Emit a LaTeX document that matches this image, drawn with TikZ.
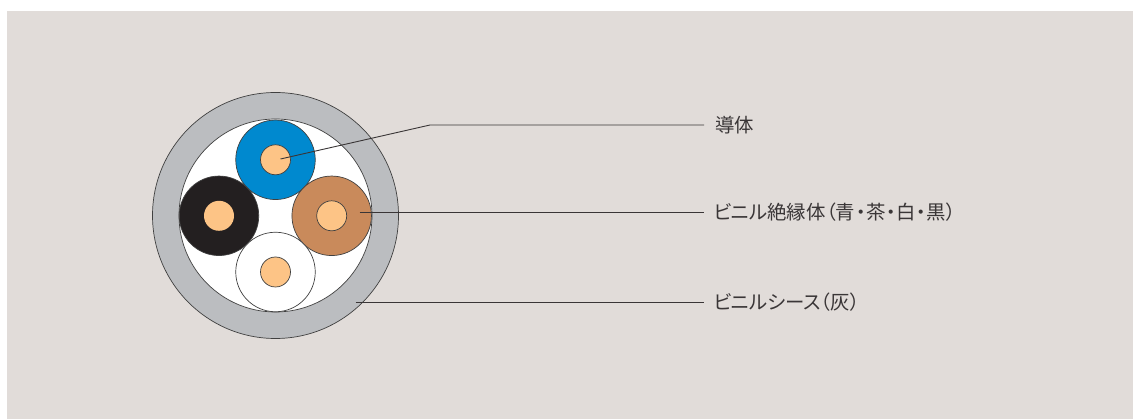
\documentclass[tikz,border=0pt]{standalone}
\usepackage{fontspec}
\newfontfamily\cjk[RawFeature=+palt]{Noto Sans CJK JP}
\definecolor{bgc}{HTML}{E1DCD9}
\definecolor{sheath}{HTML}{BBBDC0}
\definecolor{bluei}{HTML}{0089CF}
\definecolor{browni}{HTML}{C98A5B}
\definecolor{blacki}{HTML}{231F20}
\definecolor{corec}{HTML}{FDC486}
\definecolor{edge}{HTML}{404040}
\definecolor{txt}{HTML}{3A3637}
\tikzset{
  disc/.style={circle,draw=edge,line width=0.7pt,inner sep=0pt,outer sep=0pt,minimum size=#1},
  insul/.style={disc=79.5pt,fill=#1},
  core/.style={disc=30pt,fill=corec},
  lead/.style={draw=blacki!90,line width=0.9pt},
  lab/.style={anchor=west,inner xsep=9.5pt,inner ysep=0pt,outer sep=0pt,text=txt,font=\cjk\fontsize{19.4pt}{21pt}\selectfont}
}
\begin{document}
\begin{tikzpicture}[x=1pt,y=-1pt]
\useasboundingbox (0,0) rectangle (1133,419);
\fill[bgc] (7,11) rectangle (1133,419);
\node[disc=246pt,fill=sheath] (outer) at (275.5,215.5) {};
\node[disc=193pt,fill=white] (inner) at (275.5,215.5) {};
\node[insul=bluei] (blue) at (275.5,159.8) {};
\node[insul=browni] (brown) at (331.7,215.8) {};
\node[insul=blacki] (black) at (219,215.8) {};
\node[insul=white] (whitei) at (275.5,272) {};
\node[core] (cblue) at (275.5,159.8) {};
\node[core] (cbrown) at (331.7,215.8) {};
\node[core,draw=none] (cblack) at (219,215.8) {};
\node[core] (cwhite) at (275.5,272) {};
\node[lab,inner xsep=11pt] (l1) at (704,125) {導体};
\node[lab] (l2) at (704,212.5) {ビニル絶縁体\hspace{0.6pt}（青\hspace{0.6pt}・\hspace{0.6pt}茶\hspace{0.6pt}・\hspace{0.6pt}白\hspace{0.6pt}・\hspace{0.6pt}黒）};
\node[lab] (l3) at (704,302.5) {ビニルシース（灰）};
\coordinate (e1) at (280.5,159);
\coordinate (bend) at (430,125);
\coordinate (e2) at (359.5,212.5);
\coordinate (e3) at (355.5,302.5);
\draw[lead] (e1) -- (bend) -- (l1.west);
\draw[lead] (e2) -- (l2.west);
\draw[lead] (e3) -- (l3.west);
\end{tikzpicture}
\end{document}
